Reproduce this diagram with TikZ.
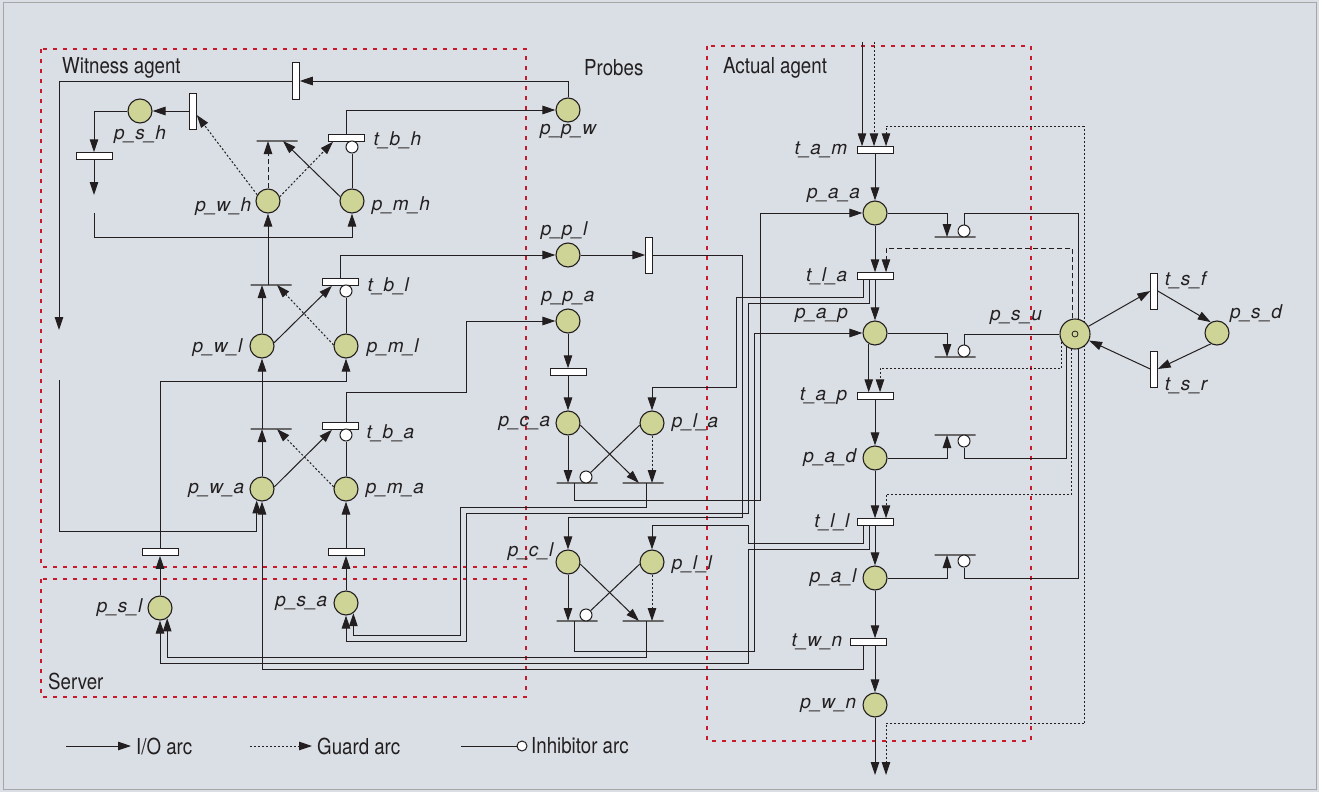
\documentclass[tikz,border=0pt]{standalone}
\usepackage{fontspec}
\setmainfont{TeX Gyre Heros}
\newfontfamily\condfont{TeX Gyre Heros}[FakeStretch=0.85]
\usetikzlibrary{arrows.meta,positioning}
\definecolor{bgcol}{RGB}{217,223,229}
\definecolor{placecol}{RGB}{206,212,150}
\definecolor{regioncol}{RGB}{200,25,45}
\definecolor{arccol}{RGB}{35,31,32}
\definecolor{barcol}{RGB}{105,105,105}
\tikzset{
  place/.style={circle, draw=arccol, fill=placecol, line width=1.1pt,
    minimum size=24pt, inner sep=0pt},
  bigplace/.style={place, minimum size=30pt},
  token/.style={circle, draw=arccol, line width=0.8pt, minimum size=6pt, inner sep=0pt},
  htrans/.style={rectangle, draw=arccol, fill=white, line width=1pt,
    minimum width=36pt, minimum height=6.5pt, inner sep=0pt},
  vtrans/.style={htrans, minimum width=6.5pt, minimum height=36pt},
  bartrans/.style={rectangle, draw=barcol, line width=1.3pt, minimum width=41pt,
    minimum height=0pt, inner sep=0pt},
  inhib/.style={circle, draw=arccol, fill=white, line width=1pt,
    minimum size=12pt, inner sep=0pt},
  lab/.style={font=\fontsize{19}{19}\selectfont\itshape, text=arccol, inner sep=1pt},
  regionlab/.style={font=\condfont\fontsize{22}{22}\selectfont, text=arccol,
    anchor=west, inner sep=0pt},
  region/.style={draw=regioncol, line width=2.8pt, dash pattern=on 4pt off 6pt},
  io/.style={draw=arccol, line width=1pt, -{Triangle[length=13pt,width=8.5pt]}},
  guard/.style={io, dash pattern=on 2pt off 2pt},
  dguard/.style={io, dash pattern=on 5pt off 3pt},
  dotline/.style={draw=arccol, line width=1pt, dash pattern=on 2pt off 2pt},
  plainarc/.style={draw=arccol, line width=1pt},
}

\begin{document}
\begin{tikzpicture}[x=1pt, y=-1pt]
  \useasboundingbox (0,0) rectangle (1319,792);
  \fill[bgcol] (0,0) rectangle (1319,792);
  \draw[gray!70, line width=1pt] (3,3) rectangle (1316,789);

  % regions
  \draw[region] (41,49) rectangle (526,567);
  \draw[region] (41,579) rectangle (526,697);
  \draw[region] (707,46) rectangle (1031,741);
  \node[regionlab] (witnesslab) at (62,68) {Witness agent};
  \node[regionlab] (probeslab) at (584,68) {Probes};
  \node[regionlab] (actuallab) at (723,68) {Actual agent};
  \node[regionlab] (serverlab) at (48,681) {Server};

  % free ends
  \coordinate (gapw1) at (59,330);
  \coordinate (gapw2) at (59,380);
  \coordinate (gaps1) at (94,195);
  \coordinate (gaps2) at (94,213);
  \coordinate (topa) at (862,42);
  \coordinate (topb) at (874,42);
  \coordinate (gc1) at (1084,126);
  \coordinate (gc2) at (1084,723);
  \coordinate (outa) at (875,775);
  \coordinate (outb) at (886,775);
  \draw[dotline] (gc2) -- (gc1);

  % places
  \node[place] (psh) at (140,111) {};
  \node[place] (pwh) at (268,201) {};
  \node[place] (pmh) at (352,201) {};
  \node[place] (pwl) at (262,346) {};
  \node[place] (pml) at (346,346) {};
  \node[place] (pwa) at (262,489) {};
  \node[place] (pma) at (346,489) {};
  \node[place] (psl) at (160,608) {};
  \node[place] (psa) at (346,603) {};
  \node[place] (ppw) at (568,110) {};
  \node[place] (ppl) at (568,255) {};
  \node[place] (ppa) at (568,321) {};
  \node[place] (pca) at (568,423) {};
  \node[place] (pla) at (652,423) {};
  \node[place] (pcl) at (568,562) {};
  \node[place] (pll) at (652,562) {};
  \node[place] (paa) at (875,213) {};
  \node[place] (pap) at (875,333) {};
  \node[place] (pad) at (875,458) {};
  \node[place] (pal) at (875,578) {};
  \node[place] (pwn) at (875,705) {};
  \node[bigplace] (psu) at (1075,334) {};
  \node[token] (psutok) at (psu) {};
  \node[place] (psd) at (1217,333) {};

  % transitions
  \node[vtrans] (tpw) at (296,81) {};
  \node[vtrans] (tws) at (193,111) {};
  \node[htrans] (tsh) at (94,156) {};
  \node[htrans] (tbh) at (346,138) {};
  \node[htrans] (tbl) at (340,282) {};
  \node[htrans] (tba) at (340,426) {};
  \node[htrans] (ts1) at (160,552) {};
  \node[htrans] (ts2) at (346,552) {};
  \node[vtrans] (tpl) at (649,255) {};
  \node[htrans] (tpa) at (568,372) {};
  \node[htrans] (tam) at (875,150) {};
  \node[htrans] (tla) at (875,276) {};
  \node[htrans] (tap) at (875,396) {};
  \node[htrans] (tll) at (875,522) {};
  \node[htrans] (twn) at (868,642) {};
  \node[vtrans] (tsf) at (1154,291) {};
  \node[vtrans] (tsr) at (1154,369) {};

  % immediate transitions
  \node[bartrans] (bwh) at (277,141) {};
  \node[bartrans] (bwl) at (271,285) {};
  \node[bartrans] (bwa) at (271,429) {};
  \node[bartrans] (bca1) at (577,483) {};
  \node[bartrans] (bca2) at (643,483) {};
  \node[bartrans] (bcl1) at (577,621) {};
  \node[bartrans] (bcl2) at (643,621) {};
  \node[bartrans] (baa) at (955,237) {};
  \node[bartrans] (bap) at (955,357) {};
  \node[bartrans] (bad) at (955,435) {};
  \node[bartrans] (bal) at (955,555) {};

  \node[inhib] (ibh) at (352,147) {};
  \node[inhib] (ibl) at (346,291) {};
  \node[inhib] (iba) at (346,435) {};
  \node[inhib] (ica) at (586,477) {};
  \node[inhib] (icl) at (586,615) {};
  \node[inhib] (iaa) at (964,231) {};
  \node[inhib] (iap) at (964,351) {};
  \node[inhib] (iad) at (964,441) {};
  \node[inhib] (ial) at (964,561) {};

  % labels
  \node[lab, below=1pt of psh] (pshl) {p\_s\_h};
  \node[lab, left=3pt of pwh, yshift=-6pt] (pwhl) {p\_w\_h};
  \node[lab, right=6pt of pmh, yshift=-5pt] (pmhl) {p\_m\_h};
  \node[lab, right=8pt of tbh, yshift=-2pt] (tbhl) {t\_b\_h};
  \node[lab, below=1pt of ppw] (ppwl) {p\_p\_w};
  \node[lab, above=2pt of ppl, xshift=-4pt] (ppll) {p\_p\_l};
  \node[lab, above=2pt of ppa] (ppal) {p\_p\_a};
  \node[lab, right=8pt of tbl, yshift=-4pt] (tbll) {t\_b\_l};
  \node[lab, left=6pt of pwl, yshift=-2pt] (pwll) {p\_w\_l};
  \node[lab, right=7pt of pml, yshift=-2pt] (pmll) {p\_m\_l};
  \node[lab, right=7pt of tba, yshift=-7pt] (tbal) {t\_b\_a};
  \node[lab, left=4pt of pwa, yshift=-1pt] (pwal) {p\_w\_a};
  \node[lab, right=6pt of pma, yshift=-1pt] (pmal) {p\_m\_a};
  \node[lab, left=4pt of psl] (psll) {p\_s\_l};
  \node[lab, left=5pt of psa] (psal) {p\_s\_a};
  \node[lab, left=4pt of pca] (pcal) {p\_c\_a};
  \node[lab, right=6pt of pla] (plal) {p\_l\_a};
  \node[lab, left=1pt of pcl, yshift=10pt] (pcll) {p\_c\_l};
  \node[lab, right=6pt of pll, yshift=-3pt] (plll) {p\_l\_l};
  \node[lab, above left=0pt and 5pt of paa] (paal) {p\_a\_a};
  \node[lab, above left=0pt and 17pt of pap] (papl) {p\_a\_p};
  \node[lab, left=8pt of tam] (taml) {t\_a\_m};
  \node[lab, left=8pt of tla] (tlal) {t\_l\_a};
  \node[lab, left=8pt of tap] (tapl) {t\_a\_p};
  \node[lab, left=5pt of pad] (padl) {p\_a\_d};
  \node[lab, left=6pt of tll] (tlll) {t\_l\_l};
  \node[lab, left=5pt of pal] (pall) {p\_a\_l};
  \node[lab, left=6pt of twn] (twnl) {t\_w\_n};
  \node[lab, left=5pt of pwn] (pwnl) {p\_w\_n};
  \node[lab, above left=-3pt and 21pt of psu] (psul) {p\_s\_u};
  \node[lab, right=6pt of tsf, yshift=11pt] (tsfl) {t\_s\_f};
  \node[lab, right=6pt of tsr, yshift=-17pt] (tsrl) {t\_s\_r};
  \node[lab, above right=0pt and 3pt of psd] (psdl) {p\_s\_d};

  % witness agent
  \draw[io] (ppw.north) |- (tpw.east);
  \draw[io] (tpw.west) -| (gapw1);
  \draw[io] (gapw2) -- ++(0,151) -| (pwa.-115);
  \draw[io] (tws.west) -- (psh.east);
  \draw[io] (psh.west) -| (tsh.north);
  \draw[io] (tsh.south) -- (gaps1);
  \draw[io] (gaps2) |- ([yshift=-24pt]pmh.south) -- (pmh.south);
  \draw[dguard] (pwh) -- (pwh |- bwh);
  \draw[guard] (pwh.150) -- ([yshift=-4pt]tws.east);
  \draw[guard] (pwh.20) -- ([xshift=-13pt]tbh.south);
  \draw[io] (pmh.160) -- ([xshift=6pt]bwh.center);
  \draw[plainarc] (pmh) -- (ibh);
  \draw[io] (tbh.north) |- (ppw.west);

  \draw[io] (bwl -| pwh) -- (pwh);
  \draw[io] (pwl) -- (pwl |- bwl);
  \draw[guard] (pml.175) -- ([xshift=6pt]bwl.center);
  \draw[io] (pwl.15) -- ([xshift=-8pt]tbl.south);
  \draw[plainarc] (pml) -- (ibl);
  \draw[io] (tbl.north) |- (ppl.west);
  \draw[io] (ts1.north) |- ([yshift=-23pt]pml.south) -- (pml.south);

  \draw[io] (bwa -| pwl) -- (pwl);
  \draw[io] (pwa) -- (pwa |- bwa);
  \draw[guard] (pma.170) -- ([xshift=6pt]bwa.center);
  \draw[io] (pwa.10) -- ([xshift=-8pt]tba.south);
  \draw[plainarc] (pma) -- (iba);
  \draw[io] ([xshift=6pt]tba.north) -- ++(0,-30) -- ++(120,0) |- (ppa.west);
  \draw[io] (ts2) -- (pma);
  \draw[io] (psa) -- (ts2);
  \draw[io] (psl) -- (ts1);

  % probes
  \draw[io] (ppl) -- (tpl);
  \draw[io] (tpl.east) -- ++(90,0) |- ([yshift=32pt]pcl.north) -- (pcl.north);
  \draw[io] (ppa) -- (tpa);
  \draw[io] (tpa) -- (pca);
  \draw[io] (pca) -- (pca |- bca1);
  \draw[io] (pca.-10) -- ([xshift=-4pt]bca2.center);
  \draw[guard] (pla) -- (pla |- bca2);
  \draw[plainarc] (pla.190) -- (ica);
  \draw[io] (pcl) -- (pcl |- bcl1);
  \draw[io] (pcl.-10) -- ([xshift=-4pt]bcl2.center);
  \draw[guard] (pll) -- (pll |- bcl2);
  \draw[plainarc] (pll.190) -- (icl);

  % long connections
  \draw[io] ([xshift=-3pt]bca1.center) -- ++(0,17) -- ++(186,0) |- (paa.west);
  \draw[io] ([xshift=-3pt]bcl1.center) -- ++(0,30) -- ++(180,0) |- (pap.west);
  \draw[io] ([xshift=-12pt]tla.south) -- ++(0,18) -- ++(-127,0) -- ++(0,90) -| (pla.north);
  \draw[io] ([xshift=-6pt]tla.south) -- ++(0,24) -- ++(-121,0) -- ++(0,210)
    -- ++(-282,0) -- ++(0,128) -| (psa.south);
  \draw[io] ([xshift=3pt]bca2.center) -- ++(0,24) -- ++(-186,0) -- ++(0,128) -| (psa.-54);
  \draw[io] ([xshift=-12pt]tll.south) -- ++(0,18) -- ++(-115,0) -- ++(0,-18) -| (pll.north);
  \draw[io] ([xshift=-6pt]tll.south) -- ++(0,24) -- ++(-121,0) -- ++(0,114) -| (psl.south);
  \draw[io] ([xshift=3pt]bcl2.center) -- ++(0,36) -| (psl.-55);
  \draw[io] ([xshift=-5pt]twn.south) -- ++(0,24) -| (pwa.south);

  % actual agent
  \draw[io] (topa) -- (topa |- tam.north);
  \draw[guard] (topb) -- (topb |- tam.north);
  \draw[guard] (gc1) -| ([xshift=11pt]tam.north);
  \draw[io] (tam) -- (paa);
  \draw[io] (paa) -- (tla);
  \draw[dguard] ([xshift=-3pt]psu.north) -- ++(0,-70) -| ([xshift=11pt]tla.north);
  \draw[io] (tla) -- (pap);
  \draw[io] (pap.-120) -- (pap.-120 |- tap.north);
  \draw[guard] (psu.-150) |- ([xshift=5pt,yshift=24pt]tap.north) -- ([xshift=5pt]tap.north);
  \draw[io] (tap) -- (pad);
  \draw[io] (pad) -- (tll);
  \draw[guard] (psu.-102) |- ([xshift=11pt,yshift=24pt]tll.north) -- ([xshift=11pt]tll.north);
  \draw[io] (tll) -- (pal);
  \draw[io] (pal) -- (pal |- twn.north);
  \draw[io] (pwn |- twn.south) -- (pwn);
  \draw[io] (pwn) -- (outa);
  \draw[guard] (gc2) -| (outb);

  \draw[io] (paa.east) -| ([xshift=-8pt]baa.center);
  \draw[plainarc] (iaa.north) |- (paa -| psu.78) -- (psu.78);
  \draw[io] (pap.east) -| ([xshift=-8pt]bap.center);
  \draw[plainarc] (iap.north) |- (psu.west);
  \draw[io] (pad.east) -| ([xshift=-8pt]bad.center);
  \draw[plainarc] (iad.south) |- (pad -| psu.-122) -- (psu.-122);
  \draw[io] (pal.east) -| ([xshift=-8pt]bal.center);
  \draw[plainarc] (ial.south) |- (pal -| psu.-78) -- (psu.-78);

  \draw[io] (psu) -- (tsf.west);
  \draw[io] (tsf.east) -- (psd.120);
  \draw[io] (psd.-120) -- (tsr.east);
  \draw[io] (tsr.west) -- (psu);

  % legend
  \coordinate (lgio1) at (66,746);
  \coordinate (lgio2) at (131,746);
  \draw[io] (lgio1) -- (lgio2);
  \node[regionlab] (lgiot) at (136,746) {I/O arc};
  \coordinate (lggd1) at (250,746);
  \coordinate (lggd2) at (312,746);
  \draw[guard] (lggd1) -- (lggd2);
  \node[regionlab] (lggdt) at (317,746) {Guard arc};
  \coordinate (lgin1) at (461,746);
  \node[inhib, minimum size=10pt] (lgin2) at (522,746) {};
  \draw[plainarc] (lgin1) -- (lgin2);
  \node[regionlab] (lgint) at (531,746) {Inhibitor arc};
\end{tikzpicture}
\end{document}
